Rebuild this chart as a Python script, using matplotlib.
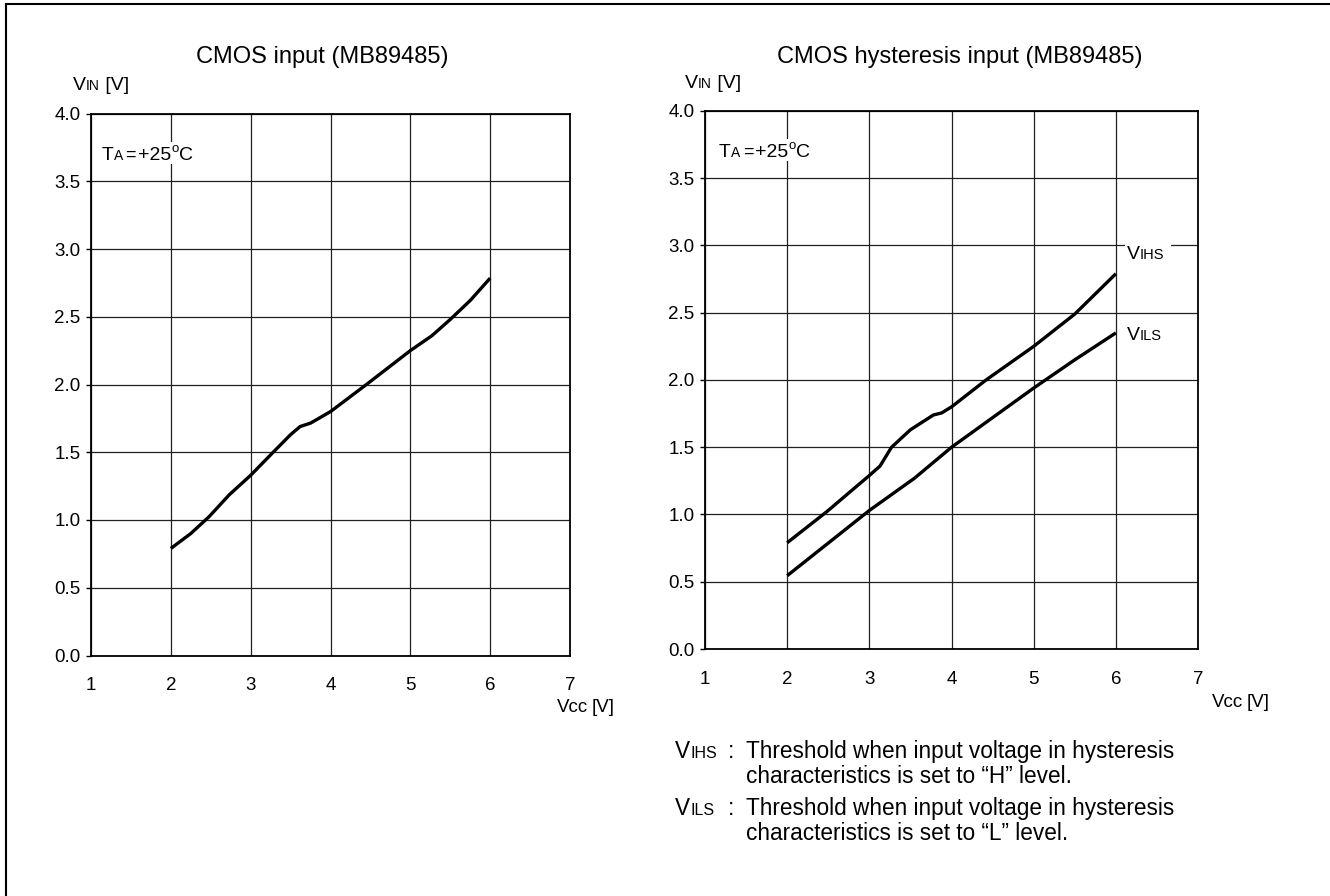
import matplotlib
matplotlib.use("Agg")
import matplotlib.pyplot as plt
from matplotlib.lines import Line2D
from matplotlib.patches import Rectangle

plt.rcParams['font.family'] = ['Liberation Sans', 'DejaVu Sans']

# ---------------- data ----------------
x_ticks = [1, 2, 3, 4, 5, 6, 7]
y_ticks = [0.0, 0.5, 1.0, 1.5, 2.0, 2.5, 3.0, 3.5, 4.0]
y_tick_labels = ["0.0", "0.5", "1.0", "1.5", "2.0", "2.5", "3.0", "3.5", "4.0"]

# CMOS input (left)
vcc_in = [2.0, 2.25, 2.48, 2.73, 3.0, 3.29, 3.5, 3.62, 3.75, 4.0, 4.45, 5.0, 5.27, 5.5, 5.75, 6.0]
vin_in = [0.79, 0.90, 1.025, 1.185, 1.33, 1.505, 1.63, 1.69, 1.715, 1.80, 2.0, 2.25, 2.36, 2.48, 2.62, 2.785]

# CMOS hysteresis input (right)
vcc_ihs = [2.0, 2.48, 3.0, 3.13, 3.27, 3.5, 3.78, 3.88, 4.0, 4.42, 5.0, 5.5, 6.0]
v_ihs = [0.79, 1.02, 1.29, 1.36, 1.50, 1.63, 1.74, 1.755, 1.80, 2.0, 2.25, 2.49, 2.79]
vcc_ils = [2.0, 3.0, 3.55, 4.0, 5.0, 5.5, 6.0]
v_ils = [0.545, 1.03, 1.27, 1.50, 1.94, 2.15, 2.35]

title_left = "CMOS input (MB89485)"
title_right = "CMOS hysteresis input (MB89485)"

W, H = 1330, 896
fig = plt.figure(figsize=(W / 100, H / 100), dpi=100)


def fx(px):
    return px / W


def fy(py):
    return 1 - py / H


# outer frame (top and left edge)
fig.add_artist(Line2D([fx(6), fx(1330)], [fy(4), fy(4)], color='black', lw=1.5))
fig.add_artist(Line2D([fx(6), fx(6)], [fy(4), fy(896)], color='black', lw=1.5))

renderer = fig.canvas.get_renderer()


def chain(parts, x, y, zorder=3):
    """parts: list of (text, size, gap_before_px, raise_px). x,y in pixel coords (baseline)."""
    arts = []
    cur_x = x
    for p in parts:
        txt, size = p[0], p[1]
        gap = p[2] if len(p) > 2 else 0
        rise = p[3] if len(p) > 3 else 0
        cur_x += gap
        a = fig.text(fx(cur_x), fy(y - rise), txt, fontsize=size, ha='left', va='baseline',
                     zorder=zorder)
        cur_x += a.get_window_extent(renderer).width
        arts.append(a)
    return arts, cur_x


def make_axes(rect):
    ax = fig.add_axes(rect)
    ax.set_xlim(1, 7)
    ax.set_ylim(0, 4)
    ax.set_xticks(x_ticks)
    ax.set_yticks(y_ticks)
    ax.set_yticklabels(y_tick_labels)
    ax.tick_params(axis='x', length=0, pad=15.5, labelsize=13.5)
    ax.tick_params(axis='y', direction='out', length=3.6, width=1, pad=4, labelsize=13.5)
    for s in ax.spines.values():
        s.set_linewidth(1.3)
        s.set_color('black')
    ax.grid(True, color='#202020', lw=0.9)
    ax.set_axisbelow(True)
    return ax


# left axes: x 91..570 px, y 113.5..655.5 px
axL = make_axes([fx(91), fy(655.5), (570 - 91) / W, (655.5 - 113.5) / H])
axL.plot(vcc_in, vin_in, color='black', lw=2.4, solid_capstyle='butt')

# right axes: x 705..1198 px, y 111..649 px
axR = make_axes([fx(705), fy(649), (1198 - 705) / W, (649 - 111) / H])
axR.plot(vcc_ihs, v_ihs, color='black', lw=2.4, solid_capstyle='butt')
axR.plot(vcc_ils, v_ils, color='black', lw=2.4, solid_capstyle='butt')

# titles
fig.text(fx(322), fy(63), title_left, fontsize=17, ha='center', va='baseline')
fig.text(fx(960), fy(63), title_right, fontsize=17, ha='center', va='baseline')

# y axis labels
chain([("V", 14), ("IN", 10), (" [V]", 14)], 73, 90)
chain([("V", 14), ("IN", 10), (" [V]", 14)], 685, 88)

# x axis labels
chain([("Vcc", 13.5), ("[V]", 13.5, 3)], 557, 712)
chain([("Vcc", 13.5), ("[V]", 13.5, 3)], 1212, 707)

# temperature annotations (white background)
for (tx, ty) in [(102, 160), (719, 157)]:
    fig.patches.append(Rectangle((fx(tx - 3), fy(ty + 4)), 104 / W, 22 / H,
                                 transform=fig.transFigure, facecolor='white',
                                 edgecolor='none', zorder=5))
    chain([("T", 14), ("A", 10, 0.5), ("=", 13, 2), ("+25", 14, 2), ("o", 9.5, 0, 8), ("C", 14)],
          tx, ty, zorder=6)

# curve labels on right chart
for (lbl, ly) in [("IHS", 259), ("ILS", 340)]:
    fig.patches.append(Rectangle((fx(1125), fy(ly + 3)), 46 / W, 20 / H,
                                 transform=fig.transFigure, facecolor='white',
                                 edgecolor='none', zorder=5))
    chain([("V", 14), (lbl, 10.5)], 1127, ly, zorder=6)

# explanation text below right chart
leg_size = 16.3
chain([("V", leg_size), ("IHS", 11.5)], 675, 758)
fig.text(fx(728), fy(758), ":", fontsize=leg_size, ha='left', va='baseline')
fig.text(fx(746), fy(758), "Threshold when input voltage in hysteresis", fontsize=leg_size, ha='left', va='baseline')
fig.text(fx(746), fy(783), "characteristics is set to \u201cH\u201d level.", fontsize=leg_size, ha='left', va='baseline')
chain([("V", leg_size), ("ILS", 11.5)], 675, 815)
fig.text(fx(728), fy(815), ":", fontsize=leg_size, ha='left', va='baseline')
fig.text(fx(746), fy(815), "Threshold when input voltage in hysteresis", fontsize=leg_size, ha='left', va='baseline')
fig.text(fx(746), fy(840), "characteristics is set to \u201cL\u201d level.", fontsize=leg_size, ha='left', va='baseline')

fig.savefig("out.png", dpi=100)
